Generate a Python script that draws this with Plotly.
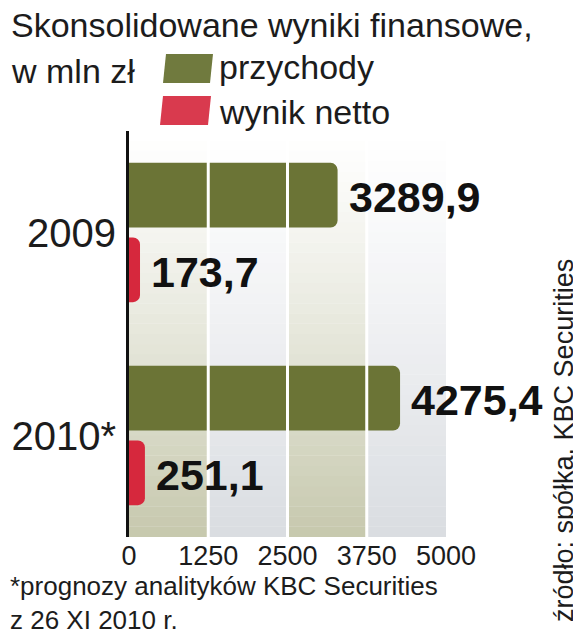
import plotly.graph_objects as go

# ---- data ----
categories = ["2009", "2010*"]
series_names = ["przychody", "wynik netto"]
przychody = [3289.9, 4275.4]
wynik_netto = [173.7, 251.1]
x_ticks = [0, 1250, 2500, 3750, 5000]
title_line1 = "Skonsolidowane wyniki finansowe,"
title_line2 = "w mln zł"
footnote = "*prognozy analityków KBC Securities<br>z 26 XI 2010 r."
source = "źródło: spółka, KBC Securities"

# ---- geometry (screen pixels; page body has an 8px margin) ----
OFF = 8
W, H = 581 - OFF, 640 - OFF
L, R, T, B = 129, 446, 131, 537


def px(x):
    return (x - L) / (R - L)


def py(y):
    return (B - y) / (B - T)


def fmt(v):
    return f"{v:.1f}".replace(".", ",")


GREEN = "#6b7436"
RED = "#d6283d"
TXT = "#1c1c1c"
SANS = "Liberation Sans, Arial, sans-serif"

fig = go.Figure()
fig.add_trace(go.Bar(
    y=categories, x=przychody, orientation="h", name=series_names[0],
    marker=dict(color=GREEN, line=dict(width=0)), showlegend=False,
))
fig.add_trace(go.Bar(
    y=categories, x=wynik_netto, orientation="h", name=series_names[1],
    marker=dict(color=RED, line=dict(width=0)), showlegend=False,
))

shapes = []
# background bands with vertical gradient (white at top -> band colour at bottom)
band_cols = [(198, 200, 173), (217, 220, 225), (198, 200, 173), (217, 220, 225)]
N = 40
for i in range(len(x_ticks) - 1):
    c = band_cols[i]
    for k in range(N):
        y0 = k / N
        y1 = (k + 1) / N
        t = 1 - (y0 + y1) / 2  # 0 at top, 1 at bottom
        f = t ** 1.2
        col = tuple(round(255 + (cc - 255) * f) for cc in c)
        shapes.append(dict(type="rect", xref="x", yref="paper",
                           x0=x_ticks[i], x1=x_ticks[i + 1], y0=y0, y1=y1 + 0.001,
                           fillcolor="rgb(%d,%d,%d)" % col, line=dict(width=0),
                           layer="below"))
# white grid lines above bars
for xv in x_ticks[1:-1]:
    shapes.append(dict(type="line", xref="x", yref="paper", x0=xv, x1=xv, y0=0, y1=1,
                       line=dict(color="white", width=3), layer="above"))


# legend swatches (slanted)
def swatch(xl, xr, yt, yb, slant, color):
    return dict(type="path", xref="paper", yref="paper",
                path="M %f,%f L %f,%f L %f,%f L %f,%f Z" % (
                    px(xl), py(yb), px(xr - slant), py(yb),
                    px(xr), py(yt), px(xl + slant), py(yt)),
                fillcolor=color, line=dict(width=0), layer="above")


shapes.append(swatch(163, 213, 54, 83, 3, "#707a3e"))
shapes.append(swatch(160, 211, 96, 125, 3, "#d93a4e"))

annotations = [
    dict(text=title_line1, x=px(9), y=py(25), xref="paper", yref="paper",
         xanchor="left", yanchor="middle", showarrow=False,
         font=dict(family=SANS, size=34, color=TXT)),
    dict(text=title_line2, x=px(9), y=py(71), xref="paper", yref="paper",
         xanchor="left", yanchor="middle", showarrow=False,
         font=dict(family=SANS, size=34, color=TXT)),
    dict(text=series_names[0], x=px(217), y=py(67), xref="paper", yref="paper",
         xanchor="left", yanchor="middle", showarrow=False,
         font=dict(family=SANS, size=34, color=TXT)),
    dict(text=series_names[1], x=px(217), y=py(112), xref="paper", yref="paper",
         xanchor="left", yanchor="middle", showarrow=False,
         font=dict(family=SANS, size=34, color=TXT)),
    dict(text=footnote, x=px(8), y=py(569), xref="paper", yref="paper",
         xanchor="left", yanchor="top", align="left", showarrow=False,
         font=dict(family=SANS, size=26, color=TXT)),
    dict(text=source, x=px(564), y=py(441), xref="paper", yref="paper",
         xanchor="center", yanchor="middle", textangle=-90, showarrow=False,
         font=dict(family=SANS, size=27, color=TXT)),
]

# value labels (above the white grid lines), placed at each bar's end
slot_px = 37.5
for vals, shift in ((przychody, slot_px), (wynik_netto, -slot_px)):
    for idx, v in enumerate(vals):
        annotations.append(dict(
            text=fmt(v), x=v, y=idx, xref="x", yref="y",
            xanchor="left", yanchor="middle", xshift=9, yshift=shift - 2,
            showarrow=False,
            font=dict(family=SANS, size=43, color="#111111", weight="bold")))

fig.update_layout(
    width=W, height=H,
    margin=dict(l=L - OFF, r=581 - R, t=T - OFF, b=640 - B, pad=0, autoexpand=False),
    paper_bgcolor="white", plot_bgcolor="white",
    barmode="group", bargap=0.265, bargroupgap=0.133, barcornerradius=7,
    shapes=shapes, annotations=annotations,
    showlegend=False,
    xaxis=dict(range=[0, 5000], autorange=False, tickvals=x_ticks,
               ticktext=[str(v) for v in x_ticks],
               showgrid=False, zeroline=False, showline=False, ticks="",
               automargin=False,
               tickfont=dict(family=SANS, size=27, color=TXT), fixedrange=True),
    yaxis=dict(type="category", categoryorder="array", categoryarray=categories,
               range=[len(categories) - 0.5, -0.5], autorange=False,
               showgrid=False, zeroline=False,
               showline=True, linecolor="#111111", linewidth=3, ticks="",
               ticklabelstandoff=2, automargin=False,
               tickfont=dict(family=SANS, size=40, color=TXT), fixedrange=True),
)

fig.write_html("out.html")
